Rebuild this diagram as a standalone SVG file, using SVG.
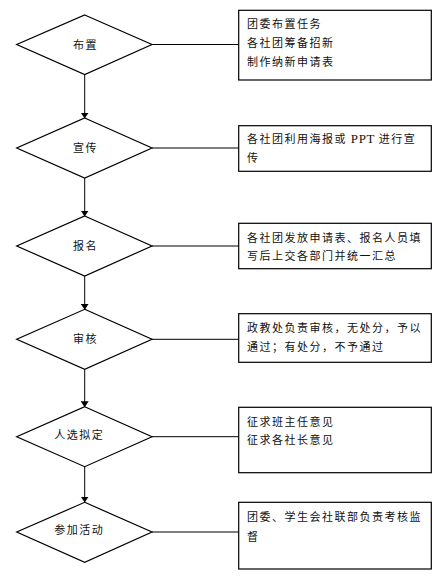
<svg xmlns="http://www.w3.org/2000/svg" width="444" height="578" viewBox="0 0 444 578">
<style>
.shape{fill:#fff;stroke:#000;stroke-width:1.2}
.conn{stroke:#000;stroke-width:1;fill:none}
.t{font-family:"Liberation Serif","Noto Sans CJK SC",serif;font-size:11px;letter-spacing:1.5px;fill:#111}
.lat{font-size:13px;letter-spacing:0.6px}
</style>
<defs>
<marker id="arr" markerWidth="6" markerHeight="8" refX="5.5" refY="4" orient="auto" markerUnits="userSpaceOnUse" viewBox="0 0 6 8">
<path d="M0,0 L6,4 L0,8 z" fill="#000"/>
</marker>
</defs>
<rect width="444" height="578" fill="#fff"/>
<g id="connectors">
<line class="conn" x1="152" y1="44.5" x2="238.7" y2="44.5"/>
<line class="conn" x1="152" y1="148" x2="238.7" y2="148"/>
<line class="conn" x1="152" y1="246" x2="238.7" y2="246"/>
<line class="conn" x1="152" y1="339.3" x2="238.7" y2="339.3"/>
<line class="conn" x1="152" y1="436.7" x2="238.7" y2="436.7"/>
<line class="conn" x1="152" y1="532" x2="238.7" y2="532"/>
<line class="conn" x1="84.7" y1="74.5" x2="84.7" y2="118" marker-end="url(#arr)"/>
<line class="conn" x1="84.7" y1="178" x2="84.7" y2="216" marker-end="url(#arr)"/>
<line class="conn" x1="84.7" y1="276" x2="84.7" y2="309.3" marker-end="url(#arr)"/>
<line class="conn" x1="84.7" y1="369.3" x2="84.7" y2="406.7" marker-end="url(#arr)"/>
<line class="conn" x1="84.7" y1="466.7" x2="84.7" y2="502" marker-end="url(#arr)"/>
</g>
<g id="n1">
<polygon class="shape" points="84.7,15 152,44.5 84.7,74.5 16.7,44.5"/>
<text class="t" x="73" y="48.5">布置</text>
</g>
<g id="b1">
<rect class="shape" x="238.7" y="10.3" width="192.6" height="69.7"/>
<text class="t" x="247" y="28">团委布置任务</text>
<text class="t" x="247" y="46.7">各社团筹备招新</text>
<text class="t" x="247" y="65.7">制作纳新申请表</text>
</g>
<g id="n2">
<polygon class="shape" points="84.7,118 152,148 84.7,178 16.7,148"/>
<text class="t" x="73" y="151.5">宣传</text>
</g>
<g id="b2">
<rect class="shape" x="238.7" y="125.7" width="192.6" height="45.6"/>
<text class="t" x="247" y="143.3">各社团利用海报或<tspan class="lat"> PPT </tspan>进行宣</text>
<text class="t" x="247" y="162.3">传</text>
</g>
<g id="n3">
<polygon class="shape" points="84.7,216 152,246 84.7,276 16.7,246"/>
<text class="t" x="73" y="249.5">报名</text>
</g>
<g id="b3">
<rect class="shape" x="238.7" y="223.3" width="192.6" height="45.4"/>
<text class="t" x="247" y="241.7">各社团发放申请表、报名人员填</text>
<text class="t" x="247" y="260">写后上交各部门并统一汇总</text>
</g>
<g id="n4">
<polygon class="shape" points="84.7,309.3 152,339.3 84.7,369.3 16.7,339.3"/>
<text class="t" x="73" y="343">审核</text>
</g>
<g id="b4">
<rect class="shape" x="238.7" y="313.7" width="192.6" height="48.6"/>
<text class="t" x="247" y="332.3">政教处负责审核，无处分，予以</text>
<text class="t" x="247" y="350.7">通过；有处分，不予通过</text>
</g>
<g id="n5">
<polygon class="shape" points="84.7,406.7 152,436.7 84.7,466.7 16.7,436.7"/>
<text class="t" x="54.3" y="439">人选拟定</text>
</g>
<g id="b5">
<rect class="shape" x="238.7" y="407.3" width="192.6" height="65.4"/>
<text class="t" x="247" y="425.7">征求班主任意见</text>
<text class="t" x="247" y="444">征求各社长意见</text>
</g>
<g id="n6">
<polygon class="shape" points="84.7,502.3 152,532 84.7,562.3 16.7,532"/>
<text class="t" x="54.3" y="534">参加活动</text>
</g>
<g id="b6">
<rect class="shape" x="238.7" y="502.3" width="192.6" height="66.7"/>
<text class="t" x="247" y="520.7">团委、学生会社联部负责考核监</text>
<text class="t" x="247" y="540.7">督</text>
</g>
</svg>
